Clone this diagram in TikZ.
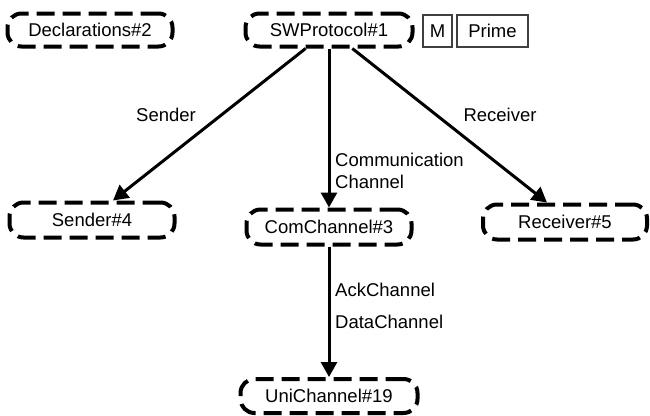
\documentclass[tikz,border=0pt]{standalone}
\usepackage{fontspec}
\setmainfont{Liberation Sans}
\usetikzlibrary{arrows.meta}
\usetikzlibrary{calc}

\begin{document}
\begin{tikzpicture}[x=1pt,y=-1pt,
        modbox/.style={draw, line width=4pt, dash pattern=on 18pt off 8pt, rounded corners=14pt,
            minimum width=165pt, minimum height=33pt, inner sep=0pt, fill=white},
        tagbox/.style={draw=black!75, line width=1.2pt, minimum height=32pt, inner sep=0pt},
        relarrow/.style={line width=3pt, -{Triangle[length=15pt,width=16pt]}},
        rellabel/.style={anchor=west, inner sep=0pt, align=left},
        font=\fontsize{18.5pt}{22pt}\selectfont]
        \useasboundingbox (0,0) rectangle (650,415);
        % modules
        \node[modbox] (decl) at (90,30) {Declarations\#2};
        \node[modbox, minimum width=167pt] (swp) at (329,30) {SWProtocol\#1};
        \node[modbox, minimum height=35pt] (snd) at (92,220) {Sender\#4};
        \node[modbox, minimum height=35pt] (com) at (329,227) {ComChannel\#3};
        \node[modbox, minimum width=164pt, minimum height=35pt] (rcv) at (565,222) {Receiver\#5};
        \node[modbox, minimum width=177pt, minimum height=34pt] (uni) at (329,396) {UniChannel\#19};
        % tags
        \node[tagbox, minimum width=29pt] (mtag) at (437.5,31) {M};
        \node[tagbox, minimum width=71pt] (ptag) at (492.5,31) {Prime};
        % relations
        \draw[relarrow] (swp) -- ([xshift=21pt]snd.north);
        \draw[relarrow] (swp) -- (com);
        \draw[relarrow] (swp) -- ([xshift=-18pt]rcv.north);
        \draw[relarrow] (com) -- (uni);
        \node[inner sep=0pt] (sndlbl) at (166,115) {Sender};
        \node[inner sep=0pt] (rcvlbl) at (500,115) {Receiver};
        \node[rellabel] (comlbl) at (335,171) {Communication\\Channel};
        \node[rellabel] (acklbl) at (335,290) {AckChannel};
        \node[rellabel] (datlbl) at (335,322) {DataChannel};
\end{tikzpicture}
\end{document}
